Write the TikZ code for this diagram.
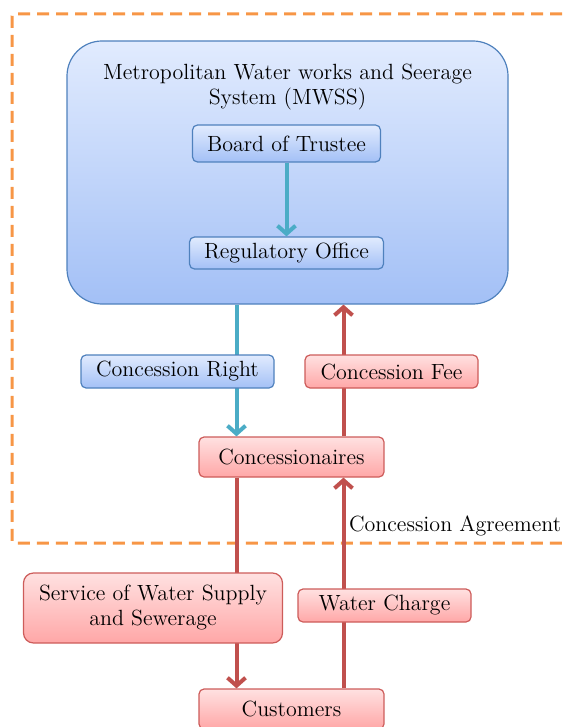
\documentclass[tikz,border=0pt]{standalone}
\usetikzlibrary{arrows.meta}

\definecolor{frameorange}{HTML}{F79646}
\definecolor{bluetop}{HTML}{E1EBFE}
\definecolor{bluebot}{HTML}{A3C0F6}
\definecolor{blueline}{HTML}{4F81BD}
\definecolor{redtop}{HTML}{FFE1E1}
\definecolor{redbot}{HTML}{FFA7A7}
\definecolor{redline}{HTML}{CD5C5A}
\definecolor{arrowblue}{HTML}{4BACC6}
\definecolor{arrowred}{HTML}{C0504D}

\begin{document}
\begin{tikzpicture}[x=0.5pt,y=-0.5pt,
        font=\fontsize{11}{12.5}\selectfont,
        bluebox/.style={draw=blueline,line width=0.6pt,rounded corners=2.5pt,
            top color=bluetop,bottom color=bluebot,inner sep=0pt,align=center},
        redbox/.style={draw=redline,line width=0.6pt,rounded corners=2.5pt,
            top color=redtop,bottom color=redbot,inner sep=0pt,align=center},
        bluearrow/.style={draw=arrowblue,line width=2pt,
            -{Straight Barb[length=4pt,width=9pt]}},
        redarrow/.style={draw=arrowred,line width=2pt,
            -{Straight Barb[length=4pt,width=9pt]}}]

    \useasboundingbox (0,0) rectangle (566,727);

    % agreement frame
    \draw[frameorange,line width=1.5pt,dash pattern=on 6pt off 3.5pt,rounded corners=1pt]
        (600,14) -- (12,14) -- (12,543) -- (600,543);

    % MWSS
    \node[bluebox,rounded corners=17.5pt,minimum width=220.5pt,minimum height=131.5pt] (mwss) at (287.5,172.5) {};
    \node[align=center] (mwsstitle) at (287.5,87) {Metropolitan Water works and Seerage\\System (MWSS)};
    \node[bluebox,minimum width=94pt,minimum height=18.5pt] (board) at (286.5,143.5) {Board of Trustee};
    \node[bluebox,minimum width=97pt,minimum height=16pt] (office) at (286.5,253) {Regulatory Office};
    \draw[bluearrow] (board) -- (office);

    % concessionaires and customers
    \node[redbox,minimum width=92.5pt,minimum height=20pt] (conc) at (291.5,457) {Concessionaires};
    \node[redbox,minimum width=92.5pt,minimum height=20pt] (cust) at (291.5,709) {Customers};

    %flows
    \coordinate (xl) at (236.5,0);
    \coordinate (xr) at (343.5,0);
    \draw[bluearrow] (mwss.south -| xl) -- (conc.north -| xl);
    \draw[redarrow] (conc.north -| xr) -- (mwss.south -| xr);
    \draw[redarrow] (conc.south -| xl) -- (cust.north -| xl);
    \draw[redarrow] (cust.north -| xr) -- (conc.south -| xr);

    % labels on the flows
    \node[bluebox,minimum width=96.5pt,minimum height=16.5pt] (right) at (177.5,371.5) {Concession Right};
    \node[redbox,minimum width=86.5pt,minimum height=16.5pt] (fee) at (391.5,371.5) {Concession Fee};
    \node[redbox,rounded corners=5pt,minimum width=129.5pt,minimum height=35pt] (service) at (153,608) {Service of Water Supply\\and Sewerage};
    \node[redbox,minimum width=86.5pt,minimum height=16.5pt] (charge) at (384.5,605.5) {Water Charge};

    \node[anchor=west] (agree) at (342,526) {Concession Agreement};
\end{tikzpicture}
\end{document}
